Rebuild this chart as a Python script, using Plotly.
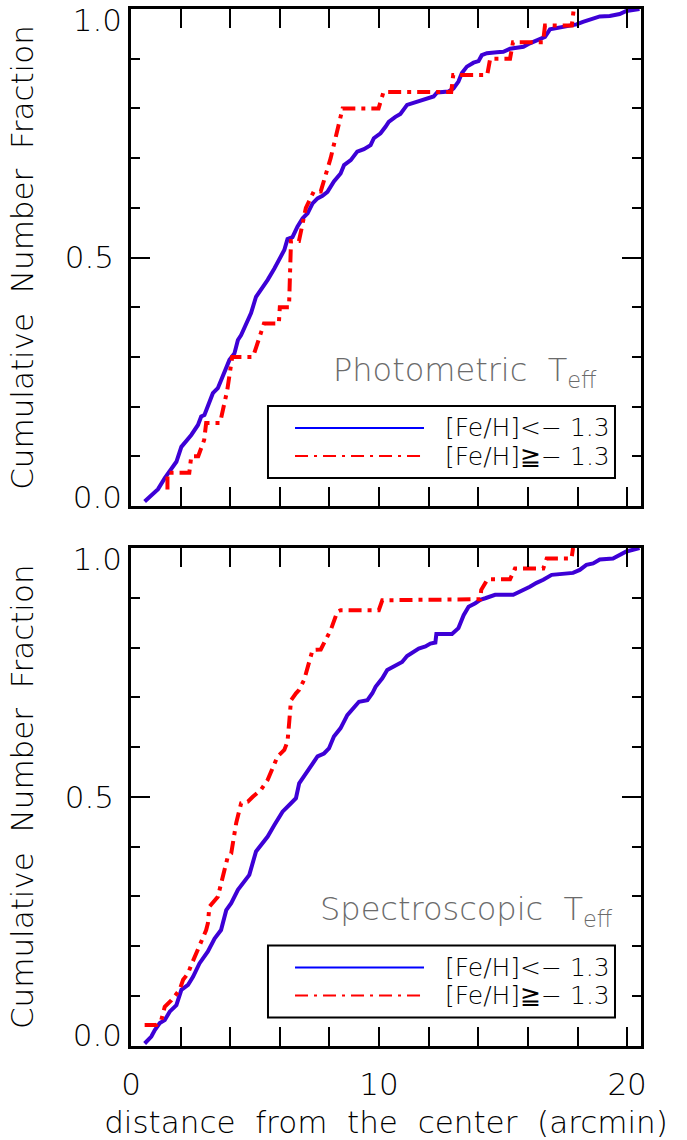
import plotly.graph_objects as go

# ---------------- data ----------------
# Top panel: Photometric Teff
phot_metal_poor_x = [0.55, 0.96, 1.09, 1.36, 1.56, 1.83, 2.03, 2.16, 2.43, 2.70, 2.83, 2.96, 3.16, 3.30, 3.50,
                     3.70, 3.97, 4.17, 4.31, 4.44, 4.71, 4.84, 5.04, 5.24, 5.51, 5.78, 6.04, 6.18, 6.31, 6.51,
                     6.71, 6.92, 7.12, 7.32, 7.52, 7.72, 7.92, 8.18, 8.45, 8.59, 8.86, 9.12, 9.39, 9.66, 9.79,
                     10.06, 10.26, 10.39, 10.66, 10.86, 11.13, 11.40, 11.67, 11.94, 12.20, 12.34, 12.80, 13.00,
                     13.20, 13.34, 13.54, 13.81, 14.01, 14.14, 14.35, 14.75, 15.01, 15.28, 15.55, 15.82, 16.08,
                     16.49, 16.69, 16.89, 17.29, 17.69, 17.96, 18.22, 18.49, 18.90, 19.30, 19.70, 19.97, 20.50]
phot_metal_poor_y = [0.009, 0.026, 0.034, 0.056, 0.069, 0.089, 0.119, 0.126, 0.143, 0.163, 0.180, 0.183, 0.210,
                     0.227, 0.237, 0.260, 0.294, 0.307, 0.334, 0.344, 0.371, 0.388, 0.421, 0.435, 0.455, 0.478,
                     0.502, 0.515, 0.537, 0.541, 0.562, 0.579, 0.589, 0.609, 0.619, 0.624, 0.632, 0.653, 0.669,
                     0.686, 0.696, 0.713, 0.718, 0.726, 0.740, 0.750, 0.763, 0.773, 0.783, 0.789, 0.807, 0.811,
                     0.817, 0.820, 0.824, 0.832, 0.834, 0.840, 0.854, 0.871, 0.884, 0.892, 0.895, 0.907, 0.911,
                     0.913, 0.914, 0.920, 0.922, 0.924, 0.931, 0.939, 0.944, 0.959, 0.962, 0.966, 0.969, 0.974,
                     0.979, 0.985, 0.986, 0.990, 0.996, 1.000]
phot_metal_rich_x = [1.47, 1.47, 2.35, 2.43, 2.71, 2.95, 3.03, 3.59, 3.88, 4.08, 4.92, 5.36, 5.96, 6.00, 6.37,
                     6.45, 6.77, 7.05, 7.37, 7.65, 8.05, 8.53, 9.98, 10.18, 12.91, 12.99, 14.36, 14.48, 15.28,
                     15.40, 16.61, 16.69, 17.77, 17.85]
phot_metal_rich_y = [0.033, 0.067, 0.067, 0.100, 0.100, 0.133, 0.167, 0.167, 0.233, 0.300, 0.300, 0.367, 0.367,
                     0.400, 0.400, 0.533, 0.533, 0.600, 0.633, 0.633, 0.700, 0.800, 0.800, 0.833, 0.833, 0.867,
                     0.867, 0.900, 0.900, 0.933, 0.933, 0.967, 0.967, 1.000]

# Bottom panel: Spectroscopic Teff
spec_metal_poor_x = [0.55, 0.82, 0.96, 1.16, 1.36, 1.56, 1.83, 2.03, 2.30, 2.50, 2.76, 3.10, 3.37, 3.63, 3.84,
                     4.04, 4.31, 4.57, 4.77, 5.04, 5.24, 5.51, 5.78, 6.11, 6.45, 6.65, 6.78, 6.92, 7.05, 7.32,
                     7.52, 7.78, 7.98, 8.18, 8.45, 8.72, 8.99, 9.19, 9.53, 9.73, 9.86, 10.13, 10.33, 10.66, 10.93,
                     11.13, 11.33, 11.60, 11.87, 12.07, 12.27, 12.31, 12.94, 13.20, 13.41, 13.61, 13.88, 14.08,
                     14.28, 14.68, 15.41, 15.88, 16.08, 16.35, 16.62, 16.96, 17.82, 18.09, 18.36, 18.63, 18.90,
                     19.43, 19.70, 19.97, 20.50]
spec_metal_poor_y = [0.004, 0.018, 0.031, 0.045, 0.051, 0.068, 0.081, 0.112, 0.122, 0.138, 0.165, 0.189, 0.215,
                     0.232, 0.272, 0.286, 0.313, 0.329, 0.343, 0.390, 0.403, 0.420, 0.443, 0.470, 0.487, 0.497,
                     0.527, 0.537, 0.547, 0.567, 0.581, 0.587, 0.597, 0.621, 0.638, 0.664, 0.678, 0.691, 0.694,
                     0.708, 0.721, 0.738, 0.755, 0.765, 0.771, 0.783, 0.790, 0.798, 0.802, 0.808, 0.810, 0.827,
                     0.827, 0.839, 0.865, 0.882, 0.889, 0.896, 0.899, 0.906, 0.906, 0.916, 0.922, 0.930, 0.936,
                     0.946, 0.950, 0.956, 0.966, 0.969, 0.977, 0.979, 0.986, 0.993, 1.000]
spec_metal_rich_x = [0.55, 1.02, 1.22, 1.36, 1.63, 1.83, 1.96, 2.10, 2.30, 2.43, 2.70, 2.83, 3.03, 3.10, 3.16,
                     3.50, 3.63, 3.77, 3.90, 4.04, 4.24, 4.44, 4.71, 4.91, 5.24, 5.51, 5.91, 6.18, 6.31, 6.38,
                     6.45, 6.65, 6.78, 6.98, 7.12, 7.32, 7.65, 7.78, 8.05, 8.32, 8.45, 9.99, 10.13, 14.08, 14.12,
                     14.37, 15.28, 15.48, 16.62, 16.76, 17.76, 17.82]
spec_metal_rich_y = [0.041, 0.041, 0.051, 0.078, 0.091, 0.102, 0.112, 0.132, 0.145, 0.162, 0.192, 0.205, 0.232,
                     0.246, 0.279, 0.299, 0.326, 0.353, 0.379, 0.386, 0.447, 0.487, 0.490, 0.500, 0.514, 0.534,
                     0.581, 0.594, 0.611, 0.651, 0.694, 0.708, 0.715, 0.735, 0.761, 0.795, 0.796, 0.808, 0.835,
                     0.872, 0.875, 0.875, 0.895, 0.897, 0.916, 0.937, 0.937, 0.959, 0.959, 0.979, 0.979, 1.000]

x_tick_vals = [0, 10, 20]
x_tick_text = ["0", "10", "20"]
y_tick_vals = [0.0, 0.5, 1.0]
y_tick_text = ["0.0", "0.5", "1.0"]
legend_labels = ["[Fe/H]<\u2212 1.3", "[Fe/H]\u2267\u2212 1.3"]
panel_labels = ["Photometric  T<sub>eff</sub>", "Spectroscopic  T<sub>eff</sub>"]

# ---------------- style ----------------
FONT = "DejaVu Sans"
WEIGHT = 200
BLUE_CURVE = "#3d00d6"
BLUE = "#0000ff"
RED = "#ff0000"
GRAY = "#6b6b6b"
DASHDOT = "13px,6px,4px,6px"
W, H = 687, 1140


def fnt(size, color="black"):
    return dict(family=FONT, size=size, color=color, weight=WEIGHT)


fig = go.Figure()

panels = [
    ("x", "y", phot_metal_poor_x, phot_metal_poor_y, phot_metal_rich_x, phot_metal_rich_y),
    ("x2", "y2", spec_metal_poor_x, spec_metal_poor_y, spec_metal_rich_x, spec_metal_rich_y),
]
for xa, ya, bx, by, rx, ry in panels:
    fig.add_trace(go.Scatter(x=bx, y=by, xaxis=xa, yaxis=ya, mode="lines",
                             line=dict(color=BLUE_CURVE, width=4), showlegend=False))
    fig.add_trace(go.Scatter(x=rx, y=ry, xaxis=xa, yaxis=ya, mode="lines",
                             line=dict(color=RED, width=4, dash=DASHDOT), showlegend=False))

# empty traces so the label-only overlay axes get their subplots
for xa, ya in [("x", "y3"), ("x", "y4"), ("x2", "y5"), ("x2", "y6")]:
    fig.add_trace(go.Scatter(x=[], y=[], xaxis=xa, yaxis=ya, mode="lines", showlegend=False,
                             hoverinfo="skip"))

xdom = [131 / W, 641 / W]
top_dom = [1 - 506 / H, 1 - 9 / H]
bot_dom = [1 - 1045.5 / H, 1 - 548 / H]

common_x = dict(range=[0, 20.56], domain=xdom, showline=True, linecolor="black", linewidth=2.5,
                mirror="allticks", ticks="inside", ticklen=19, tickwidth=2, tickcolor="black",
                tickvals=x_tick_vals, ticktext=x_tick_text, showgrid=False, zeroline=False,
                automargin=False, ticklabeloverflow="allow",
                minor=dict(dtick=2, tick0=0, ticklen=9, tickwidth=2, tickcolor="black", ticks="inside",
                           showgrid=False),
                tickfont=fnt(31))
# main y axes: frame, ticks and the middle label
common_y = dict(range=[0, 1], showline=True, linecolor="black", linewidth=2.5,
                mirror="allticks", ticks="inside", ticklen=19, tickwidth=2, tickcolor="black",
                tickvals=[y_tick_vals[1]], ticktext=[y_tick_text[1]], showgrid=False, zeroline=False,
                automargin=False, ticklabeloverflow="allow",
                minor=dict(dtick=0.1, tick0=0, ticklen=9, tickwidth=2, tickcolor="black", ticks="inside",
                           showgrid=False),
                tickfont=fnt(31), ticklabelstandoff=8,
                title=dict(text="Cumulative\u00a0\u00a0Number\u00a0\u00a0Fraction",
                           font=fnt(31), standoff=22))


# label-only overlay axes for the end labels (kept inside the frame height, as in the original)
def end_label_axis(base, xa, idx, shift):
    return dict(overlaying=base, anchor=xa, side="left", range=[0, 1],
                tickvals=[y_tick_vals[idx]], ticktext=[y_tick_text[idx]], ticklabelshift=shift,
                ticks="", showline=False, showgrid=False, zeroline=False,
                automargin=False, ticklabeloverflow="allow", tickfont=fnt(31), ticklabelstandoff=8)


fig.update_layout(
    width=W, height=H, margin=dict(l=0, r=0, t=0, b=0, autoexpand=False),
    paper_bgcolor="white", plot_bgcolor="white",
    font=fnt(20),
    xaxis=dict(common_x, anchor="y", showticklabels=False),
    yaxis=dict(common_y, domain=top_dom, anchor="x"),
    xaxis2=dict(common_x, anchor="y2", ticklabelstandoff=10,
                title=dict(text="distance\u00a0\u00a0from\u00a0\u00a0the\u00a0\u00a0center\u00a0\u00a0(arcmin)",
                           font=fnt(31), standoff=12)),
    yaxis2=dict(common_y, domain=bot_dom, anchor="x2"),
    yaxis3=end_label_axis("y", "x", 2, 11),
    yaxis4=end_label_axis("y", "x", 0, -9),
    yaxis5=end_label_axis("y2", "x2", 2, 11),
    yaxis6=end_label_axis("y2", "x2", 0, -10),
    showlegend=False,
)

# legends drawn inside each panel
shapes = []
annotations = []
for i, (xa, ya) in enumerate([("x", "y"), ("x2", "y2")]):
    xr = f"{xa} domain"
    yr = f"{ya} domain"
    shapes.append(dict(type="rect", xref=xr, yref=yr, x0=0.2686, x1=0.949, y0=0.0563, y1=0.2012,
                       line=dict(color="black", width=2), fillcolor="white", layer="above"))
    shapes.append(dict(type="line", xref=xr, yref=yr, x0=0.3216, x1=0.5745, y0=0.157, y1=0.157,
                       line=dict(color=BLUE, width=2)))
    shapes.append(dict(type="line", xref=xr, yref=yr, x0=0.3216, x1=0.5745, y0=0.1006, y1=0.1006,
                       line=dict(color=RED, width=2, dash="13px,6px,3px,6px")))
    for lab, yy in zip(legend_labels, [0.157, 0.1006]):
        annotations.append(dict(xref=xr, yref=yr, x=0.6118, y=yy, text=lab, showarrow=False,
                                xanchor="left", yanchor="middle", font=fnt(25)))
    annotations.append(dict(xref=xr, yref=yr, x=0.392 if i == 0 else 0.367, y=0.27,
                            text=panel_labels[i], showarrow=False, xanchor="left", yanchor="middle",
                            font=fnt(32, GRAY)))

fig.update_layout(shapes=shapes, annotations=annotations)
fig.write_html("out.html")
